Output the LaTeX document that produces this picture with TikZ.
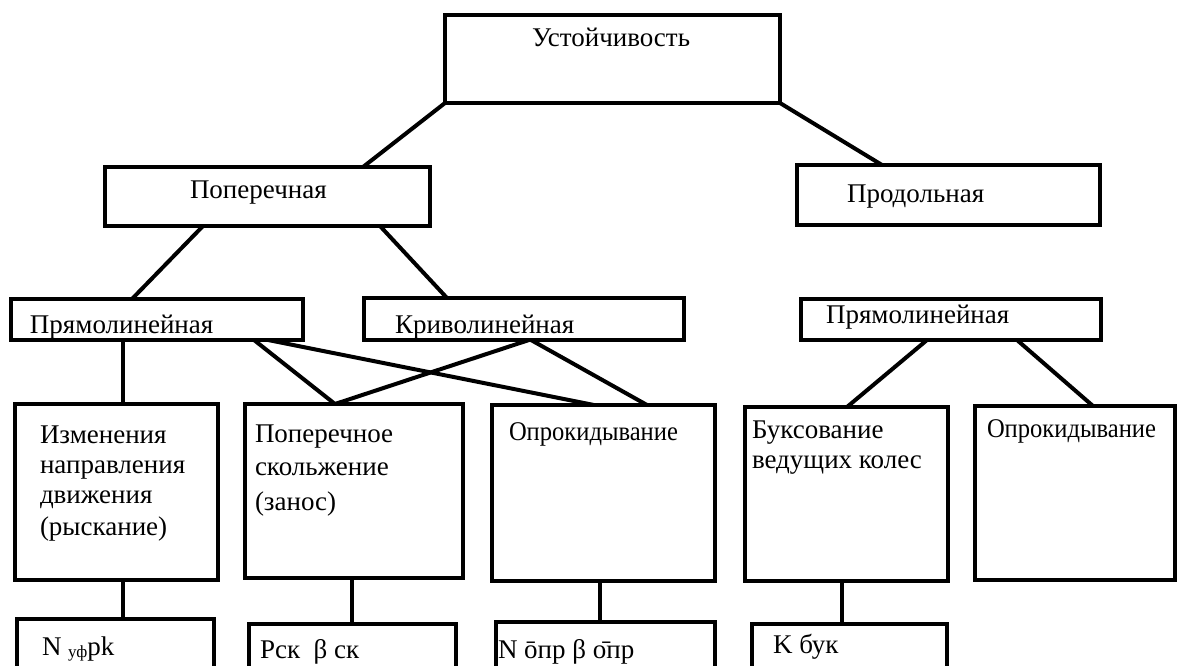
\documentclass[tikz,border=0pt]{standalone}
\usepackage{fontspec}
\usepackage{graphicx}
\setmainfont{Liberation Serif}
\begin{document}
\begin{tikzpicture}[x=1pt,y=-1pt,
  boxstyle/.style={draw=black,line width=4pt,inner sep=0pt,outer sep=0pt,anchor=north west},
  conn/.style={draw=black,line width=4pt},
  lbl/.style={anchor=base west,inner sep=0pt,outer sep=0pt,font=\fontsize{27}{31}\selectfont}]
\useasboundingbox (0,0) rectangle (1179,666);
\clip (0,0) rectangle (1179,666);
% boxes (named, placed by their corners)
\newcommand{\mybox}[5]{\node[boxstyle,minimum width={#4-#2},minimum height={#5-#3}] (#1) at (#2,#3) {};}
\mybox{A}{445}{15}{780}{103}
\mybox{B}{105}{167}{430}{226}
\mybox{C}{797}{165}{1100}{225}
\mybox{D}{11}{299}{303}{340}
\mybox{E}{364}{298}{684}{340}
\mybox{F}{801}{299}{1101}{340}
\mybox{G}{15}{404}{218}{580}
\mybox{H}{245}{404}{463}{578}
\mybox{I}{492}{405}{715}{581}
\mybox{J}{745}{407}{948}{581}
\mybox{K}{975}{406}{1175}{580}
\mybox{L}{17}{619}{214}{700}
\mybox{M}{249}{624}{456}{700}
\mybox{N}{496}{622}{715}{700}
\mybox{O}{752}{624}{947}{700}
% connectors
\draw[conn] (A.south west) -- ([xshift=258pt]B.north west);
\draw[conn] (A.south east) -- ([xshift=85pt]C.north west);
\draw[conn] ([xshift=98pt]B.south west) -- ([xshift=121pt]D.north west);
\draw[conn] ([xshift=275pt]B.south west) -- ([xshift=83pt]E.north west);
\draw[conn] ([xshift=112pt]D.south west) -- ([xshift=108pt]G.north west);
\draw[conn] ([xshift=243pt]D.south west) -- ([xshift=90pt]H.north west);
\draw[conn] ([xshift=257pt]D.south west) -- ([xshift=102pt]I.north west);
\draw[conn] ([xshift=165pt]E.south west) -- ([xshift=90pt]H.north west);
\draw[conn] ([xshift=167pt]E.south west) -- ([xshift=155pt]I.north west);
\draw[conn] ([xshift=126pt]F.south west) -- ([xshift=102pt]J.north west);
\draw[conn] ([xshift=216pt]F.south west) -- ([xshift=118pt]K.north west);
\draw[conn] ([xshift=108pt]G.south west) -- ([xshift=106pt]L.north west);
\draw[conn] ([xshift=107pt]H.south west) -- ([xshift=103pt]M.north west);
\draw[conn] ([xshift=108pt]I.south west) -- ([xshift=104pt]N.north west);
\draw[conn] ([xshift=97pt]J.south west) -- ([xshift=90pt]O.north west);
% labels
\node[lbl] (tA) at (532,47) {Устойчивость};
\node[lbl] (tB) at (190,199) {Поперечная};
\node[lbl] (tC) at (847,203) {Продольная};
\node[lbl] (tD) at (30,333) {Прямолинейная};
\node[lbl] (tE) at (395,333) {Криволинейная};
\node[lbl] (tF) at (826,323) {Прямолинейная};
\node[lbl] (tG1) at (40,443) {Изменения};
\node[lbl] (tG2) at (40,473) {направления};
\node[lbl] (tG3) at (40,503) {движения};
\node[lbl] (tG4) at (40,535) {(рыскание)};
\node[lbl] (tH1) at (255,442) {Поперечное};
\node[lbl] (tH2) at (255,475) {скольжение};
\node[lbl] (tH3) at (255,510) {(занос)};
\node[lbl] (tI) at (509,440) {\scalebox{0.91}[1]{Опрокидывание}};
\node[lbl] (tJ1) at (752,438) {Буксование};
\node[lbl] (tJ2) at (752,468) {ведущих колес};
\node[lbl] (tK) at (987,437) {\scalebox{0.91}[1]{Опрокидывание}};
\node[lbl] (tL) at (42,655) {N {\fontsize{17}{20}\selectfont\raisebox{-2pt}{уф}}pk};
\node[lbl] (tM) at (260,658) {Pск\ \ β ск};
\node[lbl] (tN) at (498,658) {N ōпр β о̄пр};
\node[lbl] (tO) at (773,653) {K бук};
\end{tikzpicture}
\end{document}
